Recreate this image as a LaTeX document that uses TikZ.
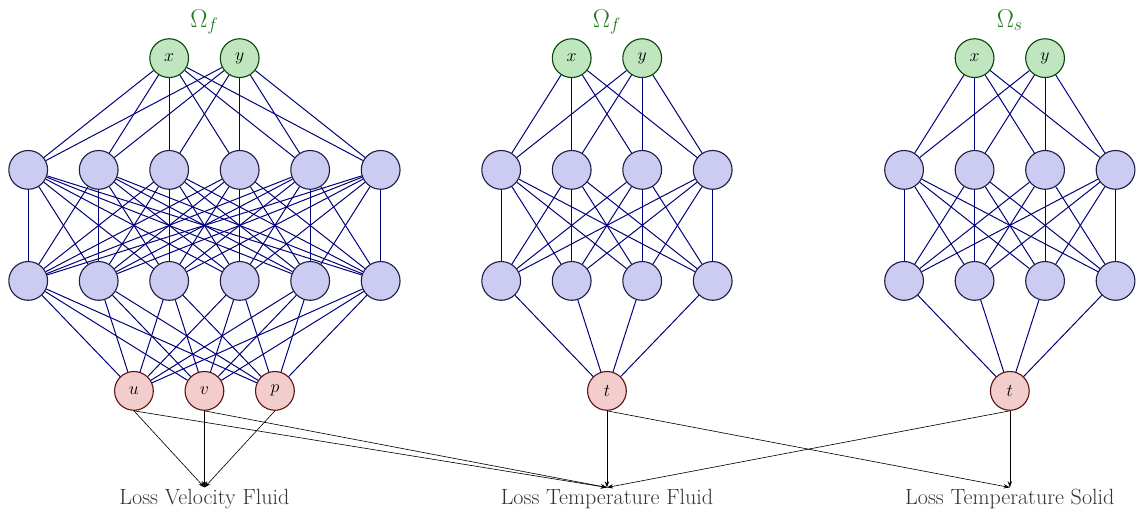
\documentclass[tikz,border=0pt]{standalone}
\usepackage{amsmath}
\usepackage{amssymb}
\usetikzlibrary{arrows.meta}

\definecolor{hidfill}{RGB}{204,204,242}
\definecolor{hidborder}{RGB}{30,30,70}
\definecolor{infill}{RGB}{192,230,192}
\definecolor{inborder}{RGB}{10,70,10}
\definecolor{outfill}{RGB}{243,204,204}
\definecolor{outborder}{RGB}{90,20,20}
\definecolor{edgeblue}{RGB}{0,0,120}
\definecolor{omegagreen}{RGB}{30,120,30}

\begin{document}
\begin{tikzpicture}
  \tikzset{neuron/.style = {shape=circle,draw=hidborder,fill=hidfill,minimum size=1.1cm,inner sep=1pt,line width=0.9pt,font=\fontsize{14.5}{16}\selectfont}}
  \tikzset{inneuron/.style = {neuron,draw=inborder,fill=infill}}
  \tikzset{outneuron/.style = {neuron,draw=outborder,fill=outfill}}
  \tikzset{edge/.style = {draw=edgeblue,line width=0.8pt}}
  \tikzset{lossedge/.style = {-{Stealth[length=5pt,width=3.5pt]},line width=0.5pt}}
  \tikzset{loss/.style = {anchor=north,inner sep=1pt,text=black!80,font=\fontsize{17.8}{20}\selectfont}}
  \tikzset{omega/.style = {anchor=base,inner sep=0pt,text=omegagreen,font=\fontsize{20}{22}\selectfont}}

  \useasboundingbox (0,0) rectangle (32.23,-14.61);

  % velocity network, fluid
  \foreach \i/\x in {1/0.8,2/2.8,3/4.8,4/6.8,5/8.8,6/10.8} {
    \node[neuron] (VA\i) at (\x,-4.82) {};
    \node[neuron] (VB\i) at (\x,-7.97) {};
  }
  \node[inneuron] (VX) at (4.8,-1.65) {$x$};
  \node[inneuron] (VY) at (6.8,-1.65) {$y$};
  \node[outneuron] (U) at (3.8,-11.09) {$u$};
  \node[outneuron] (V) at (5.8,-11.09) {$v$};
  \node[outneuron] (P) at (7.8,-11.09) {$p$};
  \node[omega] (OV) at (5.8,-0.77) {$\Omega_f$};

  % temperature network, fluid
  \foreach \i/\x in {1/14.22,2/16.22,3/18.22,4/20.22} {
    \node[neuron] (FA\i) at (\x,-4.82) {};
    \node[neuron] (FB\i) at (\x,-7.97) {};
  }
  \node[inneuron] (FX) at (16.22,-1.65) {$x$};
  \node[inneuron] (FY) at (18.22,-1.65) {$y$};
  \node[outneuron] (TF) at (17.22,-11.09) {$t$};
  \node[omega] (OF) at (17.22,-0.77) {$\Omega_f$};

  % temperature network, solid
  \foreach \i/\x in {1/25.65,2/27.65,3/29.65,4/31.65} {
    \node[neuron] (SA\i) at (\x,-4.82) {};
    \node[neuron] (SB\i) at (\x,-7.97) {};
  }
  \node[inneuron] (SX) at (27.65,-1.65) {$x$};
  \node[inneuron] (SY) at (29.65,-1.65) {$y$};
  \node[outneuron] (TS) at (28.65,-11.09) {$t$};
  \node[omega] (OS) at (28.65,-0.77) {$\Omega_s$};

  % losses
  \node[loss] (LVF) at (5.8,-13.83) {Loss Velocity Fluid};
  \node[loss] (LTF) at (17.22,-13.83) {Loss Temperature Fluid};
  \node[loss] (LTS) at (28.65,-13.83) {Loss Temperature Solid};

  % weights
  \foreach \a in {1,...,6} {
    \foreach \s in {VX,VY} \draw[edge] (\s) -- (VA\a);
    \foreach \b in {1,...,6} \draw[edge] (VA\a) -- (VB\b);
    \foreach \t in {U,V,P} \draw[edge] (VB\a) -- (\t);
  }
  \foreach \n in {F,S} {
    \foreach \a in {1,...,4} {
      \foreach \s in {X,Y} \draw[edge] (\n\s) -- (\n A\a);
      \foreach \b in {1,...,4} \draw[edge] (\n A\a) -- (\n B\b);
      \draw[edge] (\n B\a) -- (T\n);
    }
  }

  \foreach \from/\to in {U/LVF, V/LVF, P/LVF, U/LTF, V/LTF, TF/LTF, TF/LTS, TS/LTF, TS/LTS}
    \draw[lossedge] (\from.south) -- (\to.north);

\end{tikzpicture}
\end{document}
